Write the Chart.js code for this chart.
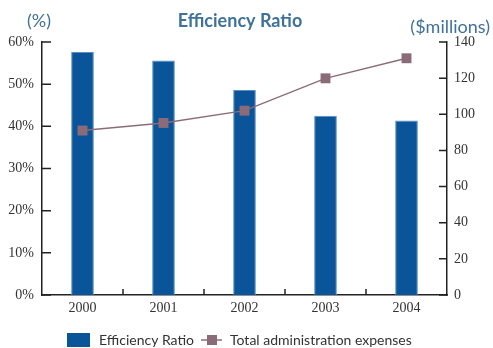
<!DOCTYPE html>
<html>
<head>
<meta charset="utf-8">
<script src="https://cdn.jsdelivr.net/npm/chart.js@4/dist/chart.umd.min.js"></script>
<style>
  html, body { margin: 0; padding: 0; background: #fff; }
  #wrap { width: 493px; height: 348px; }
</style>
</head>
<body>
<div id="wrap"><canvas id="myChart" width="493" height="348"></canvas></div>
<script>
// years on the x axis
const years = ['2000', '2001', '2002', '2003', '2004'];
// efficiency ratio, percent (bars, left axis)
const efficiencyRatio = [57.6, 55.6, 48.6, 42.5, 41.4];
// total administration expenses, $ millions (line, right axis)
const adminExpenses = [91, 95.2, 102, 119.9, 131];

const barBlue = '#0a5599';
const lineMauve = '#8c6b78';
const titleBlue = '#3f729b';
const sansFont = 'Lato, "Liberation Sans", sans-serif';
const serifFont = '"Liberation Serif", "DejaVu Serif", serif';

// short ticks that point into the plot, like the printed version
const innerTicks = {
    id: 'innerTicks',
    afterDatasetsDraw(chart) {
        const ctx = chart.ctx;
        const area = chart.chartArea;
        const x = chart.scales.x, yl = chart.scales.y, yr = chart.scales.y1;
        ctx.save();
        ctx.strokeStyle = '#222';
        ctx.lineWidth = 1.5;
        ctx.beginPath();
        yl.ticks.forEach((t, i) => {
            const py = yl.getPixelForTick(i);
            ctx.moveTo(area.left, py);
            ctx.lineTo(area.left + 9, py);
        });
        yr.ticks.forEach((t, i) => {
            const py = yr.getPixelForTick(i);
            ctx.moveTo(area.right, py);
            ctx.lineTo(area.right - 8, py);
        });
        for (let i = 1; i < years.length; i++) {
            const px = (x.getPixelForTick(i) + x.getPixelForTick(i - 1)) / 2;
            ctx.moveTo(px, area.bottom);
            ctx.lineTo(px, area.bottom - 6);
        }
        ctx.stroke();
        ctx.restore();
    }
};

// title, axis unit captions and the legend row
const captions = {
    id: 'captions',
    afterDraw(chart) {
        const ctx = chart.ctx;
        ctx.save();
        ctx.fillStyle = titleBlue;
        ctx.textBaseline = 'alphabetic';
        ctx.font = 'bold 18px ' + sansFont;
        ctx.textAlign = 'center';
        ctx.fillText('Efficiency Ratio', 240, 27);
        ctx.font = '18px ' + sansFont;
        ctx.textAlign = 'left';
        ctx.fillText('(%)', 27, 27);
        ctx.textAlign = 'right';
        ctx.fillText('($millions)', 490, 33);

        // legend
        const bars = chart.data.datasets[0];
        const line = chart.data.datasets[1];
        const ly = 340;
        ctx.fillStyle = bars.backgroundColor;
        ctx.fillRect(67, 333, 23, 14);
        ctx.fillStyle = '#333';
        ctx.font = '14px ' + sansFont;
        ctx.textAlign = 'left';
        ctx.textBaseline = 'middle';
        ctx.fillText(bars.label, 99, ly);
        ctx.strokeStyle = line.borderColor;
        ctx.lineWidth = 1.5;
        ctx.beginPath();
        ctx.moveTo(201, ly);
        ctx.lineTo(222, ly);
        ctx.stroke();
        ctx.fillStyle = line.pointBackgroundColor;
        ctx.fillRect(207, ly - 5, 10, 10);
        ctx.fillStyle = '#333';
        ctx.fillText(line.label, 230, ly);
        ctx.restore();
    }
};

const ctx = document.getElementById('myChart').getContext('2d');
const chart = new Chart(ctx, {
    type: 'bar',
    data: {
        labels: years,
        datasets: [{
            label: 'Efficiency Ratio',
            data: efficiencyRatio,
            yAxisID: 'y',
            backgroundColor: barBlue,
            borderColor: '#5b8fc4',
            borderWidth: 1,
            barPercentage: 0.28,
            categoryPercentage: 1,
            order: 1
        }, {
            type: 'line',
            label: 'Total administration expenses',
            data: adminExpenses,
            yAxisID: 'y1',
            borderColor: lineMauve,
            borderWidth: 1.4,
            pointStyle: 'rect',
            pointRadius: 7,
            pointBorderWidth: 0,
            pointBackgroundColor: lineMauve,
            tension: 0,
            order: 0
        }]
    },
    options: {
        responsive: false,
        animation: false,
        layout: { padding: { top: 42, bottom: 0, left: 0, right: 0 } },
        plugins: {
            legend: { display: false },
            title: { display: false },
            tooltip: { enabled: false }
        },
        scales: {
            x: {
                grid: { display: false, drawTicks: false },
                border: { display: true, color: '#222', width: 1.5 },
                ticks: { color: '#333', font: { family: serifFont, size: 14 }, padding: 5 },
                afterFit(scale) { scale.height = 53; }
            },
            y: {
                position: 'left',
                min: 0, max: 60,
                grid: { display: false, drawTicks: false },
                border: { display: true, color: '#222', width: 1.5 },
                ticks: {
                    stepSize: 10,
                    color: '#333',
                    font: { family: serifFont, size: 14 },
                    padding: 8,
                    callback: v => v + '%'
                },
                afterFit(scale) { scale.width = 42; }
            },
            y1: {
                position: 'right',
                min: 0, max: 140,
                grid: { display: false, drawTicks: false },
                border: { display: true, color: '#222', width: 1.5 },
                ticks: {
                    stepSize: 20,
                    color: '#333',
                    font: { family: serifFont, size: 14 },
                    padding: 7
                },
                afterFit(scale) { scale.width = 46; }
            }
        }
    },
    plugins: [innerTicks, captions]
});
</script>
</body>
</html>
